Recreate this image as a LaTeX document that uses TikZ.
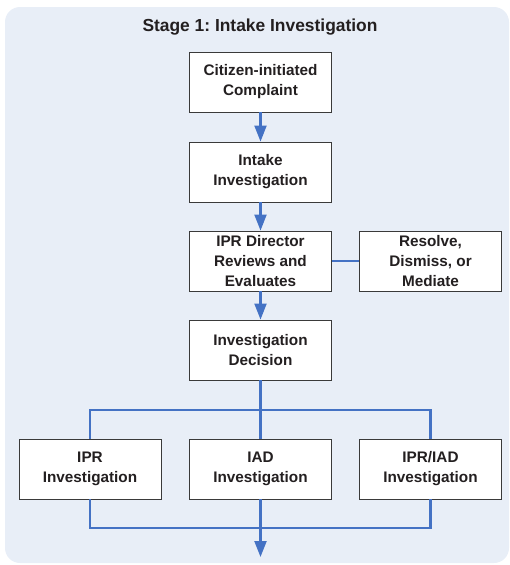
\documentclass[tikz,border=0pt]{standalone}
\usepackage{fontspec}
\setmainfont{Liberation Sans}
\usetikzlibrary{arrows.meta}
\definecolor{bgpanel}{HTML}{E8EEF7}
\definecolor{flowblue}{HTML}{4472C4}
\definecolor{boxline}{HTML}{3A3A3A}
\definecolor{txt}{HTML}{231F20}
\tikzset{
  stepbox/.style={draw=boxline, line width=0.9pt, fill=white, minimum width=142pt, minimum height=60pt,
    inner sep=0pt, align=center, text=txt, font=\fontsize{15.3}{20}\selectfont\bfseries},
  flow/.style={draw=flowblue, line width=2.2pt},
  flowarrow/.style={flow, -{Triangle[width=12pt,length=16pt]}}
}
\begin{document}
\frenchspacing
\begin{tikzpicture}[x=1pt,y=-1pt]
\useasboundingbox (0,0) rectangle (509,565);
\fill[bgpanel, rounded corners=15pt] (5,7) rectangle (509,563);
\node[text=txt, font=\fontsize{17.4}{20}\selectfont\bfseries] (title) at (260,27) {Stage 1: Intake Investigation};
\node[stepbox] (c1) at (260.5,82) {Citizen-initiated\\Complaint};
\node[stepbox] (c2) at (260.5,172) {Intake\\Investigation};
\node[stepbox] (c3) at (260.5,261) {IPR Director\\Reviews and\\Evaluates};
\node[stepbox] (r) at (430.5,261) {Resolve,\\Dismiss, or\\Mediate};
\node[stepbox] (c4) at (260.5,350) {Investigation\\Decision};
\node[stepbox] (b1) at (90,469) {IPR\\Investigation};
\node[stepbox] (b2) at (260.5,469) {IAD\\Investigation};
\node[stepbox] (b3) at (430.5,469) {IPR/IAD\\Investigation};
\coordinate (split) at (260.5,410);
\coordinate (join) at (260.5,528);
\coordinate (out) at (260.5,557);
\draw[flowarrow] (c1) -- (c2);
\draw[flowarrow] (c2) -- (c3);
\draw[flowarrow] (c3) -- (c4);
\draw[flow] (c3) -- (r);
\draw[flow] (c4) -- (split);
\draw[flow] (b1.north) |- (split) -| (b3.north);
\draw[flow] (split) -- (b2.north);
\draw[flow] (b1.south) |- (join) -| (b3.south);
\draw[flowarrow] (b2.south) -- (out);
\end{tikzpicture}
\end{document}
